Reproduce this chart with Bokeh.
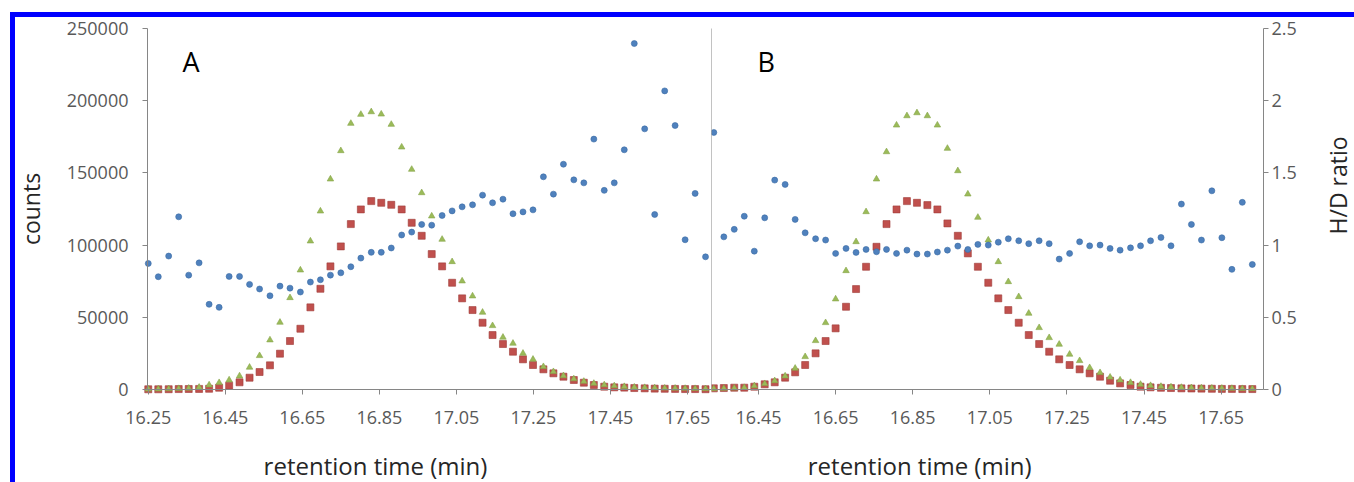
import math
from bokeh.plotting import figure
from bokeh.models import Range1d, LinearAxis, FixedTicker, NumeralTickFormatter, Label
from bokeh.layouts import row
from bokeh.embed import file_html
from bokeh.resources import INLINE

FONT = "Open Sans"

# ---------------- data ----------------
x_ticks = [16.25, 16.45, 16.65, 16.85, 17.05, 17.25, 17.45, 17.65]
count_ticks = [0, 50000, 100000, 150000, 200000, 250000]
ratio_ticks = [0, 0.5, 1, 1.5, 2, 2.5]

# panel A: retention time (min)
a_time = [16.250, 16.276, 16.303, 16.329, 16.355, 16.382, 16.408, 16.434, 16.460, 16.487,
          16.513, 16.539, 16.566, 16.592, 16.618, 16.645, 16.671, 16.697, 16.723, 16.750,
          16.776, 16.802, 16.829, 16.855, 16.881, 16.908, 16.934, 16.960, 16.986, 17.013,
          17.039, 17.065, 17.092, 17.118, 17.144, 17.171, 17.197, 17.223, 17.249, 17.276,
          17.302, 17.328, 17.355, 17.381, 17.407, 17.434, 17.460, 17.486, 17.512, 17.539,
          17.565, 17.591, 17.618, 17.644, 17.670, 17.697]
a_red = [150, 150, 200, 300, 350, 400, 500, 1250, 2630, 4980,
         8170, 12100, 16750, 24800, 33570, 42080, 56890, 69760, 85270, 99110,
         114540, 124720, 130460, 129290, 127910, 124720, 115450, 106450, 93780, 85270,
         73920, 63120, 55020, 46230, 37720, 31490, 26160, 20900, 16960, 13980,
         11210, 8860, 6580, 4710, 3110, 1940, 1500, 1300, 1000, 800,
         600, 500, 400, 300, 300, 200]
a_green = [200, 300, 400, 600, 800, 1500, 3110, 4710, 6575, 9340,
           15360, 23390, 34260, 46500, 63530, 82700, 102780, 123540, 145700, 165300,
           184240, 190470, 192270, 190680, 183550, 167840, 152400, 136210, 120080, 103950,
           88450, 75100, 64710, 53430, 44160, 36130, 31970, 25050, 20900, 15800,
           12320, 9500, 7300, 5600, 4200, 3200, 2500, 2000, 1600, 1300,
           1100, 900, 800, 700, 600, 500]
a_ratio = [0.873, 0.781, 0.924, 1.196, 0.792, 0.877, 0.590, 0.569, 0.783, 0.783,
           0.728, 0.696, 0.649, 0.716, 0.702, 0.675, 0.744, 0.760, 0.792, 0.808,
           0.850, 0.910, 0.950, 0.950, 0.980, 1.070, 1.090, 1.143, 1.138, 1.205,
           1.237, 1.265, 1.279, 1.346, 1.293, 1.318, 1.217, 1.230, 1.244, 1.473,
           1.353, 1.560, 1.452, 1.431, 1.734, 1.379, 1.431, 1.660, 2.396, 1.805,
           1.212, 2.068, 1.828, 1.037, 1.358, 0.919]

# panel B
b_time = [16.334, 16.360, 16.387, 16.413, 16.439, 16.466, 16.492, 16.519, 16.545, 16.571,
          16.598, 16.624, 16.650, 16.677, 16.703, 16.729, 16.756, 16.782, 16.808, 16.835,
          16.861, 16.888, 16.914, 16.940, 16.967, 16.993, 17.019, 17.046, 17.072, 17.098,
          17.125, 17.151, 17.178, 17.204, 17.230, 17.257, 17.283, 17.309, 17.336, 17.362,
          17.388, 17.415, 17.441, 17.467, 17.494, 17.520, 17.547, 17.573, 17.599, 17.626,
          17.652, 17.678, 17.705, 17.731]
b_red = [800, 1000, 1250, 1250, 1940, 3600, 4980, 8170, 11900, 16960,
         25050, 33570, 42350, 57300, 69560, 85000, 98840, 114540, 124720, 130460,
         129290, 127690, 124720, 115030, 106450, 94260, 85000, 73920, 63120, 55020,
         46230, 37720, 31490, 26160, 20900, 16960, 13980, 11210, 8860, 6090,
         4250, 3110, 1940, 1500, 1200, 1000, 800, 700, 600, 500,
         400, 400, 300, 300]
b_green = [500, 700, 900, 1300, 2500, 4000, 6000, 9300, 14670, 22700,
           33780, 46230, 62640, 82220, 102290, 123060, 145690, 164580, 183060, 189500,
           191580, 189500, 183060, 166930, 151430, 135310, 119180, 103470, 88450, 74610,
           64230, 52740, 42780, 35850, 31280, 24360, 19930, 15090, 11630, 8500,
           6500, 4800, 3500, 2700, 2100, 1700, 1400, 1200, 1000, 900,
           800, 700, 600, 500]
b_ratio = [1.780, 1.057, 1.109, 1.200, 0.958, 1.189, 1.450, 1.420, 1.178, 1.085,
           1.044, 1.035, 0.942, 0.977, 0.949, 0.970, 0.954, 0.970, 0.942, 0.965,
           0.938, 0.938, 0.952, 0.965, 0.993, 0.970, 1.005, 1.000, 1.020, 1.044,
           1.030, 1.010, 1.030, 1.010, 0.903, 0.942, 1.023, 0.995, 1.000, 0.977,
           0.965, 0.981, 0.995, 1.030, 1.053, 0.995, 1.284, 1.143, 1.035, 1.376,
           1.051, 0.832, 1.296, 0.866]

# ---------------- geometry (axis limits, extended view so outer texts are not clipped) ----
A_X0, A_X1 = 16.248, 17.7125          # panel A plotting area
B_X0, B_X1 = 16.328, 17.760           # panel B plotting area
A_VIEW = (15.90525, 17.7125)
B_VIEW = (16.328, 17.99607)
COUNT_VIEW = (-64404.0, 257617.7)
RATIO_VIEW = (-0.644044, 2.576177)

# ---------------- styles ----------------
RED, RED_LINE = "#C0504D", "#9E3B38"
GREEN, GREEN_LINE = "#9BBB59", "#86A44A"
BLUE, BLUE_LINE = "#4F81BD", "#3B6BA5"
AXIS_GRAY = "#868686"
TICK_TEXT = "#595959"
TITLE_TEXT = "#262626"


def make_axis(loc, bounds, ticks, standoff, formatter=None, y_range_name="default"):
    kw = {}
    if formatter is not None:
        kw["formatter"] = formatter
    ax = LinearAxis(fixed_location=loc, bounds=bounds, ticker=FixedTicker(ticks=ticks),
                    y_range_name=y_range_name, **kw)
    ax.axis_line_color = AXIS_GRAY
    ax.major_tick_line_color = AXIS_GRAY
    ax.minor_tick_line_color = None
    ax.major_tick_out = 5
    ax.major_tick_in = 0
    ax.major_label_standoff = standoff
    ax.major_label_text_font = FONT
    ax.major_label_text_font_size = "18px"
    ax.major_label_text_color = TICK_TEXT
    ax.axis_label_text_font = FONT
    ax.axis_label_text_font_size = "23px"
    ax.axis_label_text_font_style = "normal"
    ax.axis_label_text_color = TITLE_TEXT
    return ax


def base_fig(width, view_x, view_y):
    p = figure(width=width, height=465, x_range=Range1d(*view_x), y_range=Range1d(*view_y),
               title=None, output_backend="svg", toolbar_location=None,
               x_axis_location=None, y_axis_location=None,
               min_border=0, min_border_left=0, min_border_right=0,
               min_border_top=0, min_border_bottom=0,
               background_fill_color="white", border_fill_color="white",
               outline_line_color=None)
    p.xgrid.visible = False
    p.ygrid.visible = False
    return p


def add_points(p, t, red, green, ratio, count_range, ratio_range):
    p.scatter(t, red, marker="square", size=7, fill_color=RED, line_color=RED_LINE,
              line_width=0.6, y_range_name=count_range)
    p.scatter(t, green, marker="triangle", size=6.5, fill_color=GREEN, line_color=GREEN_LINE,
              line_width=0.6, y_range_name=count_range)
    p.scatter(t, ratio, marker="circle", size=6, fill_color=BLUE, line_color=BLUE_LINE,
              line_width=0.6, y_range_name=ratio_range)


def text_label(p, x, y, text, size, color, angle=0.0, align="center", baseline="middle",
               y_range_name="default"):
    p.add_layout(Label(x=x, y=y, text=text, text_font=FONT, text_font_size=size,
                       text_color=color, text_align=align, text_baseline=baseline,
                       angle=angle, y_range_name=y_range_name))


# ---------------- panel A ----------------
pA = base_fig(696, A_VIEW, COUNT_VIEW)
pA.extra_y_ranges = {"ratio": Range1d(*RATIO_VIEW)}
add_points(pA, a_time, a_red, a_green, a_ratio, "default", "ratio")

xa = make_axis(0, (A_X0, A_X1), x_ticks, 16)
pA.add_layout(xa, "below")
ya = make_axis(A_X0, (0, 250000), count_ticks, 14, NumeralTickFormatter(format="0"))
ya.axis_label = "counts"
ya.axis_label_standoff = 17
pA.add_layout(ya, "left")
text_label(pA, 16.840, -52630, "retention time (min)", "24px", TITLE_TEXT)
text_label(pA, 16.339, 227400, "A", "27px", "#000000", align="left", baseline="alphabetic")

# ---------------- panel B ----------------
pB = base_fig(643, B_VIEW, RATIO_VIEW)
pB.extra_y_ranges = {"counts": Range1d(*COUNT_VIEW)}
add_points(pB, b_time, b_red, b_green, b_ratio, "counts", "default")

xb = make_axis(0, (B_X0, B_X1), x_ticks, 16)
pB.add_layout(xb, "below")
divider = make_axis(B_X0, (0, 2.5), [], 0)
divider.major_tick_out = 0
divider.major_label_text_font_size = "0px"
pB.add_layout(divider, "left")
yr = make_axis(B_X1, (0, 2.5), ratio_ticks, 3, NumeralTickFormatter(format="0.[0]"))
pB.add_layout(yr, "right")
text_label(pB, 16.868, -0.5263, "retention time (min)", "24px", TITLE_TEXT)
text_label(pB, 17.9523, 1.413, "H/D ratio", "23px", TITLE_TEXT, angle=math.pi / 2)
text_label(pB, 16.4473, 2.274, "B", "27px", "#000000", align="left", baseline="alphabetic")

layout = row(pA, pB, styles={"margin-left": "10px", "margin-top": "12px",
                             "border-left": "5px solid #0000FF", "border-top": "5px solid #0000FF"})

open("out.html", "w").write(file_html(layout, INLINE))
